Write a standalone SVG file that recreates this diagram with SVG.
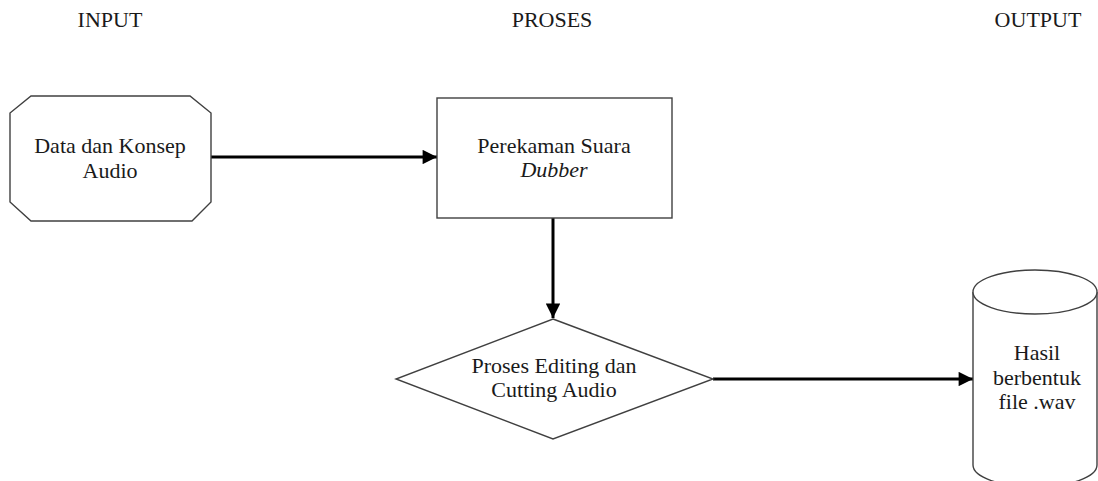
<svg xmlns="http://www.w3.org/2000/svg" width="1098" height="481" viewBox="0 0 1098 481">
  <style>
    .shape { fill: #ffffff; stroke: #404040; stroke-width: 1.4; }
    .lbl { font-family: "Liberation Serif", "Times New Roman", serif; font-size: 22px; fill: #1a1a1a; text-anchor: middle; }
    .head { font-family: "Liberation Serif", "Times New Roman", serif; font-size: 22px; fill: #1a1a1a; text-anchor: middle; }
    .conn { stroke: #000000; stroke-width: 3; fill: none; }
  </style>
  <defs>
    <marker id="arrow" viewBox="0 0 10 10" refX="10" refY="5" markerWidth="5.3" markerHeight="4.8" markerUnits="strokeWidth" orient="auto">
      <path d="M0,0 L10,5 L0,10 Z" fill="#000000"/>
    </marker>
  </defs>

  <rect width="1098" height="481" fill="#ffffff"/>

  <!-- column headings -->
  <g id="headings">
    <text class="head" x="110" y="27">INPUT</text>
    <text class="head" x="552" y="27">PROSES</text>
    <text class="head" x="1038" y="27">OUTPUT</text>
  </g>

  <!-- connectors -->
  <g id="connectors">
    <line class="conn" x1="211" y1="157" x2="437" y2="157" marker-end="url(#arrow)"/>
    <line class="conn" x1="553" y1="218" x2="553" y2="318" marker-end="url(#arrow)"/>
    <line class="conn" x1="713" y1="379" x2="973" y2="379" marker-end="url(#arrow)"/>
  </g>

  <!-- input: data and audio concept -->
  <g id="node-input">
    <polygon class="shape" points="31,96 190,96 211,113 211,202 192,221 31,221 10,202 10,113"/>
    <text class="lbl" x="110" y="153">Data dan Konsep</text>
    <text class="lbl" x="110" y="178">Audio</text>
  </g>

  <!-- process: voice recording -->
  <g id="node-recording">
    <rect class="shape" x="437" y="98" width="235" height="120"/>
    <text class="lbl" x="554" y="153">Perekaman Suara</text>
    <text class="lbl" x="554" y="177" font-style="italic">Dubber</text>
  </g>

  <!-- process: editing and cutting -->
  <g id="node-editing">
    <polygon class="shape" points="553,319 713,379 553,439 396,379"/>
    <text class="lbl" x="554" y="373">Proses Editing dan</text>
    <text class="lbl" x="554" y="397">Cutting Audio</text>
  </g>

  <!-- output: wav file -->
  <g id="node-output">
    <path class="shape" d="M973,292 L973,465 A62,22 0 0 0 1097,465 L1097,292"/>
    <ellipse class="shape" cx="1035" cy="292" rx="62" ry="22"/>
    <text class="lbl" x="1037" y="360">Hasil</text>
    <text class="lbl" x="1037" y="385">berbentuk</text>
    <text class="lbl" x="1037" y="409">file .wav</text>
  </g>
</svg>
